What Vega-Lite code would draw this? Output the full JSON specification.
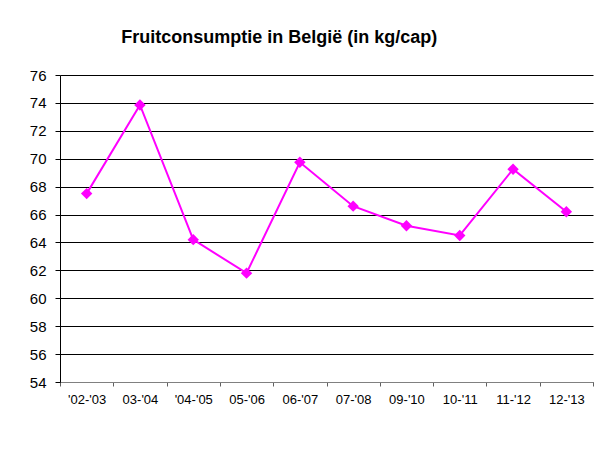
{
  "$schema": "https://vega.github.io/schema/vega-lite/v6.json",
  "autosize": {"type": "none"},
  "padding": {"left": 60, "top": 75, "right": 1, "bottom": 72},
  "width": 533,
  "height": 307,
  "background": "white",
  "title": {
    "text": "Fruitconsumptie in België (in kg/cap)",
    "font": "Liberation Sans",
    "fontSize": 18,
    "fontWeight": "bold",
    "color": "black",
    "anchor": "start",
    "dx": 92,
    "offset": 21
  },
  "config": {
    "view": {"stroke": null},
    "axis": {"labelFont": "Liberation Sans", "labelColor": "black"}
  },
  "data": {
    "values": [
      {"season": "'02-'03", "kg": 67.5},
      {"season": "03-'04", "kg": 73.85},
      {"season": "'04-'05", "kg": 64.2},
      {"season": "05-'06", "kg": 61.8},
      {"season": "06-'07", "kg": 69.75},
      {"season": "07-'08", "kg": 66.6},
      {"season": "09-'10", "kg": 65.2},
      {"season": "10-'11", "kg": 64.5},
      {"season": "11-'12", "kg": 69.25},
      {"season": "12-'13", "kg": 66.2}
    ]
  },
  "mark": {
    "type": "line",
    "color": "#FF00FF",
    "strokeWidth": 2,
    "point": {"shape": "diamond", "size": 130, "filled": true, "color": "#FF00FF", "opacity": 1}
  },
  "encoding": {
    "x": {
      "field": "season",
      "type": "ordinal",
      "sort": null,
      "title": null,
      "scale": {"type": "band", "paddingInner": 0, "paddingOuter": 0},
      "axis": {
        "labelAngle": 0,
        "labelFontSize": 13,
        "labelPadding": 7,
        "tickSize": 4,
        "tickColor": "#606060",
        "domainColor": "#808080",
        "tickBand": "extent",
        "grid": false
      }
    },
    "y": {
      "field": "kg",
      "type": "quantitative",
      "title": null,
      "scale": {"domain": [54, 76], "nice": false, "zero": false},
      "axis": {
        "values": [54, 56, 58, 60, 62, 64, 66, 68, 70, 72, 74, 76],
        "labelFontSize": 15,
        "labelPadding": 9,
        "tickSize": 5,
        "tickColor": "black",
        "domainColor": "black",
        "gridColor": "black",
        "gridOpacity": 1,
        "gridWidth": 1
      }
    }
  }
}
